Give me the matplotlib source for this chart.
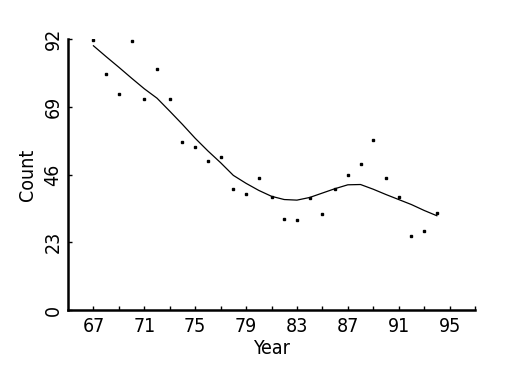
import matplotlib
matplotlib.use("Agg")
import matplotlib.pyplot as plt

years = [67, 68, 69, 70, 71, 72, 73, 74, 75, 76, 77, 78, 79, 80,
         81, 82, 83, 84, 85, 86, 87, 88, 89, 90, 91, 92, 93, 94]
counts = [91.5, 80.0, 73.4, 91.2, 71.7, 81.7, 71.5, 57.0, 55.3, 50.6,
          52.0, 41.1, 39.4, 44.7, 38.2, 30.9, 30.4, 37.9, 32.6, 41.1,
          45.7, 49.5, 57.6, 44.8, 38.2, 25.0, 26.7, 32.9]
smooth = [89.7, 86.0, 82.4, 78.7, 75.1, 71.9, 67.5, 63.0, 58.3, 54.0,
          50.0, 45.7, 43.0, 40.6, 38.6, 37.5, 37.3, 38.2, 39.7, 41.2,
          42.5, 42.6, 41.0, 39.2, 37.5, 35.8, 33.8, 32.0]
xticks = list(range(67, 98, 2))
xlabels = [str(v) if (v - 67) % 4 == 0 else "" for v in xticks]
yticks = [0, 23, 46, 69, 92]

plt.rcParams['font.family'] = ['DejaVu Sans']
plt.rcParams['font.weight'] = 200
plt.rcParams['font.stretch'] = 'condensed'

fig = plt.figure(figsize=(5.25, 3.75), dpi=100)
ax = fig.add_axes([68/525, 65/375, (475-68)/525, (310-39)/375])

ax.plot(years, smooth, color='black', lw=0.9)
ax.plot(years, counts, ls='none', marker='s', ms=1.7, color='black')

ax.set_xlim(65, 97)
ax.set_ylim(0, 92)
ax.set_xticks(xticks)
ax.set_xticklabels(xlabels)
ax.set_yticks(yticks)
ax.set_yticklabels([str(v) for v in yticks], rotation=90, va='center')

for s in ['top', 'right']:
    ax.spines[s].set_visible(False)
for s in ['left', 'bottom']:
    ax.spines[s].set_linewidth(1.8)

ax.tick_params(direction='in', length=3, width=1, labelsize=14)
ax.tick_params(axis='x', pad=5)
ax.tick_params(axis='y', pad=4)

ax.set_xlabel('Year', fontsize=14, labelpad=2)
ax.set_ylabel('Count', fontsize=14, labelpad=5)

fig.savefig('out.png', dpi=100)
